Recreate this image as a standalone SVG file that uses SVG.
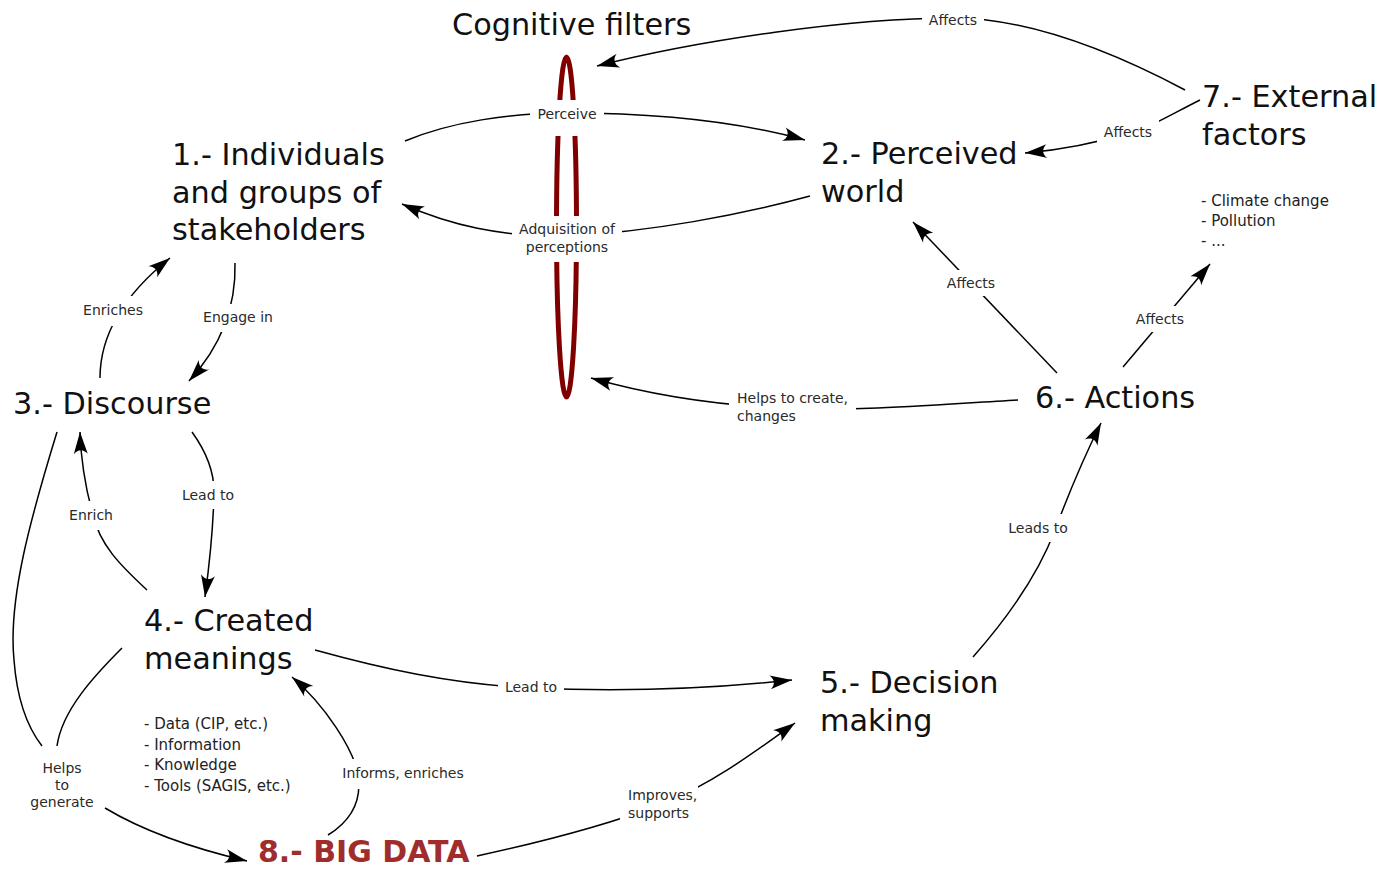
<svg xmlns="http://www.w3.org/2000/svg" width="1381" height="869" viewBox="0 0 1381 869">
<style>
.big{font-family:"DejaVu Sans","Liberation Sans",sans-serif;font-size:30.3px;fill:#111}
.bd{font-family:"DejaVu Sans","Liberation Sans",sans-serif;font-size:30px;font-weight:bold;fill:#a02c2c}
.lst{font-family:"DejaVu Sans","Liberation Sans",sans-serif;font-size:15px;fill:#222}
.lb{font-family:"DejaVu Sans","Liberation Sans",sans-serif;font-size:14px;fill:#2a2a2a}
.c{text-anchor:middle}
.ln{fill:none;stroke:#000;stroke-width:1.5}
.ar{marker-end:url(#arr)}
.bg{fill:#fff}
</style>
<defs>
<marker id="arr" viewBox="-22 -8 26 16" refX="2" refY="0" markerWidth="26" markerHeight="16" markerUnits="userSpaceOnUse" orient="auto">
<path d="M-20,-7 L2,0 L-20,7 C-15,2.5 -15,-2.5 -20,-7 z" fill="#000"/>
</marker>
</defs>
<rect width="1381" height="869" fill="#fff"/>
<g id="node-cognitive-filters">
<ellipse cx="566.5" cy="227" rx="10" ry="170" fill="none" stroke="#800000" stroke-width="5"/>
<text class="big" x="452" y="35">Cognitive filters</text>
</g>
<g id="connectors">
<path class="ln ar" d="M1185,90 C1100,45 1020,18 953,18 C850,18 700,40 597,66"/>
<path class="ln ar" d="M1200,100 C1170,115 1150,128 1128,133 C1090,145 1060,150 1025,153"/>
<path class="ln ar" d="M405,141 C450,122 510,113 567,113 C660,113 740,122 805,140"/>
<path class="ln ar" d="M810,196 C740,215 650,232 567,236 C500,237 450,225 402,204"/>
<path class="ln ar" d="M235,263 C236,300 225,342 189,381"/>
<path class="ln ar" d="M100,378 C100,330 130,290 170,258"/>
<path class="ln ar" d="M192,432 C205,450 215,470 214,495 C213,530 210,560 205,597"/>
<path class="ln ar" d="M147,590 C120,565 100,545 93,515 C86,490 81,460 80,432"/>
<path class="ln" d="M57,432 C30,520 8,600 14,660 C17,700 28,728 42,746"/>
<path class="ln" d="M122,648 C95,675 62,710 57,746"/>
<path class="ln ar" d="M105,808 C150,835 200,850 247,861"/>
<path class="ln ar" d="M315,650 C380,668 450,684 531,688 C620,692 700,690 792,680"/>
<path class="ln ar" d="M328,835 C352,820 362,800 358,775 C354,750 325,705 292,677"/>
<path class="ln ar" d="M477,856 C560,838 620,820 660,805 C710,785 755,752 795,723"/>
<path class="ln ar" d="M973,657 C1010,615 1040,570 1055,530 C1070,490 1085,455 1101,423"/>
<path class="ln ar" d="M1057,373 L913,222"/>
<path class="ln ar" d="M1123,367 L1210,264"/>
<path class="ln ar" d="M1018,400 C930,405 850,412 780,408 C700,404 640,392 591,378"/>
</g>
<g id="connector-labels">
<rect class="bg" x="922" y="8" width="62" height="24"/>
<text class="lb c" x="953" y="25">Affects</text>
<rect class="bg" x="1097" y="120" width="62" height="24"/>
<text class="lb c" x="1128" y="137">Affects</text>
<rect class="bg" x="530" y="100" width="74" height="36"/>
<text class="lb c" x="567" y="119">Perceive</text>
<rect class="bg" x="512" y="216" width="110" height="46"/>
<text class="lb c" x="567" y="234">Adquisition of</text>
<text class="lb c" x="567" y="252">perceptions</text>
<rect class="bg" x="940" y="270" width="62" height="26"/>
<text class="lb c" x="971" y="288">Affects</text>
<rect class="bg" x="76" y="296" width="74" height="30"/>
<text class="lb c" x="113" y="315">Enriches</text>
<rect class="bg" x="196" y="304" width="84" height="28"/>
<text class="lb c" x="238" y="322">Engage in</text>
<rect class="bg" x="1129" y="306" width="62" height="26"/>
<text class="lb c" x="1160" y="324">Affects</text>
<rect class="bg" x="729" y="387" width="127" height="41"/>
<text class="lb" x="737" y="403">Helps to create,</text>
<text class="lb" x="737" y="421">changes</text>
<rect class="bg" x="175" y="481" width="66" height="28"/>
<text class="lb c" x="208" y="500">Lead to</text>
<rect class="bg" x="62" y="501" width="58" height="29"/>
<text class="lb c" x="91" y="520">Enrich</text>
<rect class="bg" x="1001" y="514" width="74" height="28"/>
<text class="lb c" x="1038" y="533">Leads to</text>
<rect class="bg" x="498" y="674" width="66" height="27"/>
<text class="lb c" x="531" y="692">Lead to</text>
<text class="lb c" x="62" y="773">Helps</text>
<text class="lb c" x="62" y="790">to</text>
<text class="lb c" x="62" y="807">generate</text>
<rect class="bg" x="336" y="759" width="134" height="30"/>
<text class="lb c" x="403" y="778">Informs, enriches</text>
<rect class="bg" x="620" y="784" width="78" height="40"/>
<text class="lb" x="628" y="800">Improves,</text>
<text class="lb" x="628" y="818">supports</text>
</g>
<g id="node-1-individuals">
<text class="big" x="172" y="165">1.- Individuals</text>
<text class="big" x="172" y="202.5">and groups of</text>
<text class="big" x="172" y="240">stakeholders</text>
</g>
<g id="node-2-perceived-world">
<text class="big" x="821" y="164">2.- Perceived</text>
<text class="big" x="821" y="201.5">world</text>
</g>
<g id="node-3-discourse">
<text class="big" x="13" y="414">3.- Discourse</text>
</g>
<g id="node-4-created-meanings">
<text class="big" x="144" y="631">4.- Created</text>
<text class="big" x="144" y="668.5">meanings</text>
<text class="lst" x="144" y="729">- Data (CIP, etc.)</text>
<text class="lst" x="144" y="749.5">- Information</text>
<text class="lst" x="144" y="770">- Knowledge</text>
<text class="lst" x="144" y="790.5">- Tools (SAGIS, etc.)</text>
</g>
<g id="node-5-decision-making">
<text class="big" x="820" y="693">5.- Decision</text>
<text class="big" x="820" y="730.5">making</text>
</g>
<g id="node-6-actions">
<text class="big" x="1035" y="408">6.- Actions</text>
</g>
<g id="node-7-external-factors">
<text class="big" x="1202" y="107">7.- External</text>
<text class="big" x="1202" y="144.5">factors</text>
<text class="lst" x="1201" y="206">- Climate change</text>
<text class="lst" x="1201" y="226">- Pollution</text>
<text class="lst" x="1201" y="246">- ...</text>
</g>
<g id="node-8-big-data">
<text class="bd" x="258" y="862">8.- BIG DATA</text>
</g>
</svg>
